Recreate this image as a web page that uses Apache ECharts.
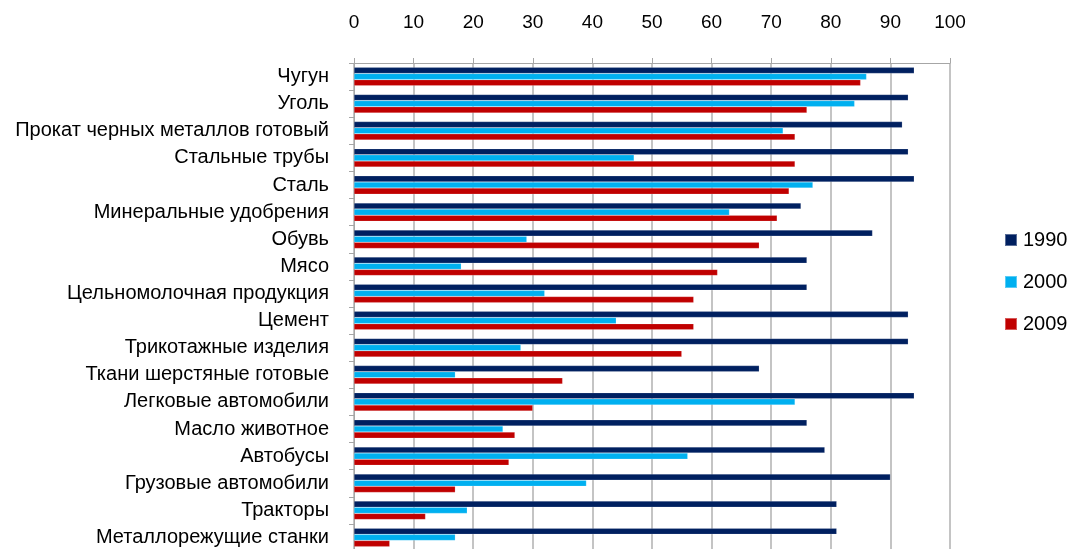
<!DOCTYPE html>
<html>
<head>
<meta charset="utf-8">
<script src="https://cdn.jsdelivr.net/npm/echarts@6/dist/echarts.min.js"></script>
<style>
html,body{margin:0;padding:0;background:#fff;}
#chart{width:1069px;height:549px;}
</style>
</head>
<body>
<div id="chart"></div>
<script>
const categories = [
  'Чугун','Уголь','Прокат черных металлов готовый','Стальные трубы','Сталь',
  'Минеральные удобрения','Обувь','Мясо','Цельномолочная продукция','Цемент',
  'Трикотажные изделия','Ткани шерстяные готовые','Легковые автомобили',
  'Масло животное','Автобусы','Грузовые автомобили','Тракторы','Металлорежущие станки'
];
const seriesNames = ['1990','2000','2009'];
const values1990 = [94,93,92,93,94,75,87,76,76,93,93,68,94,76,79,90,81,81];
const values2000 = [86,84,72,47,77,63,29,18,32,44,28,17,74,25,56,39,19,17];
const values2009 = [85,76,74,74,73,71,68,61,57,57,55,35,30,27,26,17,12,6];
const xTicks = {min:0, max:100, interval:10};
const colors = ['#002060','#00B0F0','#C00000'];

const font = "'Liberation Sans', Arial, sans-serif";
const chart = echarts.init(document.getElementById('chart'), null, {renderer:'canvas'});
const data = [values1990, values2000, values2009];
chart.setOption({
  animation:false,
  textStyle:{fontFamily:font},
  legend:{
    orient:'vertical', left:1004, top:230, padding:0,
    itemWidth:12, itemHeight:12, itemGap:22,
    icon:'rect',
    textStyle:{fontSize:20, lineHeight:20, color:'#000', fontFamily:font, padding:[0,0,0,1]},
    data:seriesNames
  },
  grid:{left:354, right:119, top:63, bottom:-2, containLabel:false, outerBoundsMode:'none'},
  xAxis:{
    type:'value', position:'top', min:xTicks.min, max:xTicks.max, interval:xTicks.interval,
    axisLine:{show:true, lineStyle:{color:'#a6a6a6', width:1}},
    axisTick:{show:true, length:5, lineStyle:{color:'#a6a6a6'}},
    axisLabel:{fontSize:19, color:'#000', margin:31, fontFamily:font},
    splitLine:{show:true, lineStyle:{color:'#b0b0b0', width:1.5}}
  },
  yAxis:{
    type:'category', inverse:true, data:categories,
    axisLine:{show:true, lineStyle:{color:'#a6a6a6', width:1}},
    axisTick:{show:true, length:5, lineStyle:{color:'#a6a6a6'}},
    axisLabel:{fontSize:20, color:'#000', margin:25, interval:0, fontFamily:font}
  },
  series: seriesNames.map((n,i)=>({
    name:n, type:'bar', data:data[i],
    barGap:'0%', barCategoryGap:'32%',
    itemStyle:{color:colors[i], borderColor:'rgba(255,255,255,0.35)', borderWidth:0.5}
  }))
});
</script>
</body>
</html>
